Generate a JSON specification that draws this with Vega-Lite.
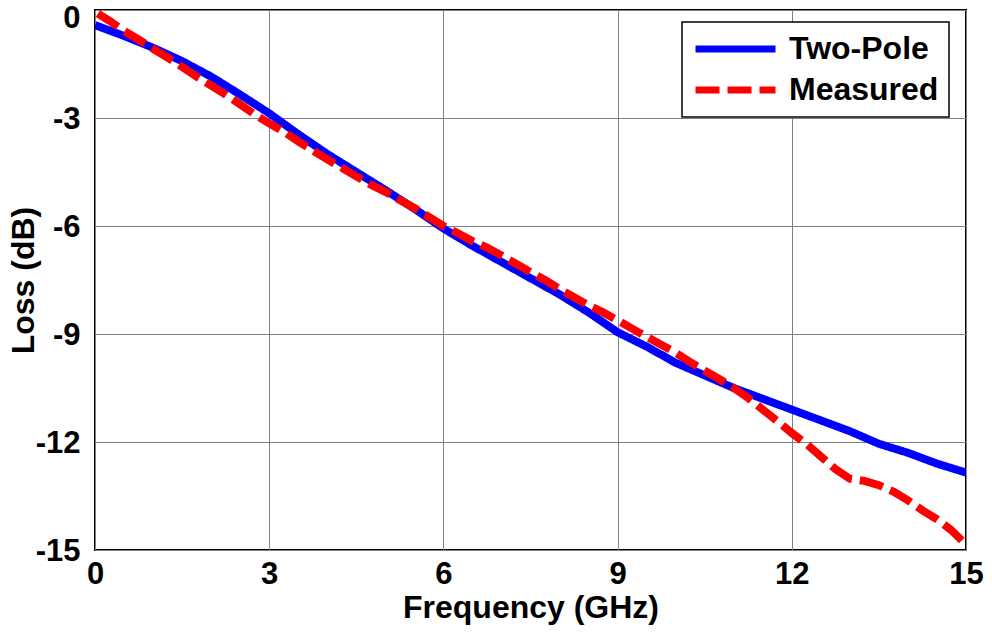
{
  "$schema": "https://vega.github.io/schema/vega-lite/v6.json",
  "autosize": {"type": "none"},
  "padding": {"left": 95, "top": 10, "right": 26, "bottom": 85},
  "width": 871,
  "height": 540,
  "background": "white",
  "config": {
    "font": "Liberation Sans",
    "view": {"stroke": "black", "strokeWidth": 2},
    "axis": {
      "labelFont": "Liberation Sans",
      "labelFontWeight": "bold",
      "labelFontSize": 31,
      "labelColor": "black",
      "titleFont": "Liberation Sans",
      "titleFontWeight": "bold",
      "titleFontSize": 32,
      "titleColor": "black",
      "grid": true,
      "gridColor": "#808080",
      "gridWidth": 1,
      "gridOpacity": 1,
      "domain": false,
      "ticks": false,
      "tickSize": 0,
      "labelFlush": false,
      "labelOverlap": false,
      "labelBound": false,
      "labelExpr": "'' + datum.value"
    },
    "legend": {
      "labelFont": "Liberation Sans",
      "labelFontWeight": "bold",
      "labelFontSize": 32,
      "labelColor": "black",
      "symbolType": "stroke",
      "symbolSize": 6400,
      "symbolStrokeWidth": 7,
      "labelOffset": 10,
      "clipHeight": 34,
      "rowPadding": 7,
      "padding": 10,
      "strokeColor": "black",
      "strokeWidth": 1.5,
      "fillColor": "white",
      "cornerRadius": 0,
      "labelLimit": 400
    }
  },
  "data": {
    "values": [
      {"series": "Two-Pole", "f": 0.0, "loss": -0.42},
      {"series": "Two-Pole", "f": 0.5, "loss": -0.72},
      {"series": "Two-Pole", "f": 1.0, "loss": -1.05},
      {"series": "Two-Pole", "f": 1.5, "loss": -1.42},
      {"series": "Two-Pole", "f": 2.0, "loss": -1.85},
      {"series": "Two-Pole", "f": 2.5, "loss": -2.35},
      {"series": "Two-Pole", "f": 3.0, "loss": -2.87},
      {"series": "Two-Pole", "f": 3.5, "loss": -3.45},
      {"series": "Two-Pole", "f": 4.0, "loss": -4.0},
      {"series": "Two-Pole", "f": 4.5, "loss": -4.5},
      {"series": "Two-Pole", "f": 5.0, "loss": -5.0},
      {"series": "Two-Pole", "f": 5.5, "loss": -5.52},
      {"series": "Two-Pole", "f": 6.0, "loss": -6.07},
      {"series": "Two-Pole", "f": 6.5, "loss": -6.55},
      {"series": "Two-Pole", "f": 7.0, "loss": -7.0},
      {"series": "Two-Pole", "f": 7.5, "loss": -7.45},
      {"series": "Two-Pole", "f": 8.0, "loss": -7.9},
      {"series": "Two-Pole", "f": 8.5, "loss": -8.4},
      {"series": "Two-Pole", "f": 9.0, "loss": -8.95},
      {"series": "Two-Pole", "f": 9.5, "loss": -9.35},
      {"series": "Two-Pole", "f": 10.0, "loss": -9.8},
      {"series": "Two-Pole", "f": 10.5, "loss": -10.15},
      {"series": "Two-Pole", "f": 11.0, "loss": -10.5},
      {"series": "Two-Pole", "f": 11.5, "loss": -10.8},
      {"series": "Two-Pole", "f": 12.0, "loss": -11.1},
      {"series": "Two-Pole", "f": 12.5, "loss": -11.4},
      {"series": "Two-Pole", "f": 13.0, "loss": -11.7},
      {"series": "Two-Pole", "f": 13.5, "loss": -12.05},
      {"series": "Two-Pole", "f": 14.0, "loss": -12.3},
      {"series": "Two-Pole", "f": 14.5, "loss": -12.6},
      {"series": "Two-Pole", "f": 15.0, "loss": -12.85},
      {"series": "Measured", "f": 0.05, "loss": -0.1},
      {"series": "Measured", "f": 0.25, "loss": -0.3},
      {"series": "Measured", "f": 0.5, "loss": -0.58},
      {"series": "Measured", "f": 0.75, "loss": -0.82},
      {"series": "Measured", "f": 1.0, "loss": -1.08},
      {"series": "Measured", "f": 1.25, "loss": -1.32},
      {"series": "Measured", "f": 1.5, "loss": -1.58},
      {"series": "Measured", "f": 1.75, "loss": -1.85},
      {"series": "Measured", "f": 2.0, "loss": -2.1},
      {"series": "Measured", "f": 2.25, "loss": -2.35},
      {"series": "Measured", "f": 2.5, "loss": -2.62},
      {"series": "Measured", "f": 2.75, "loss": -2.9},
      {"series": "Measured", "f": 3.0, "loss": -3.15},
      {"series": "Measured", "f": 3.25, "loss": -3.38},
      {"series": "Measured", "f": 3.5, "loss": -3.65},
      {"series": "Measured", "f": 3.75, "loss": -3.9},
      {"series": "Measured", "f": 4.0, "loss": -4.15},
      {"series": "Measured", "f": 4.25, "loss": -4.38},
      {"series": "Measured", "f": 4.5, "loss": -4.62},
      {"series": "Measured", "f": 4.75, "loss": -4.85},
      {"series": "Measured", "f": 5.0, "loss": -5.05},
      {"series": "Measured", "f": 5.25, "loss": -5.28},
      {"series": "Measured", "f": 5.5, "loss": -5.5},
      {"series": "Measured", "f": 5.75, "loss": -5.75},
      {"series": "Measured", "f": 6.0, "loss": -6.0},
      {"series": "Measured", "f": 6.25, "loss": -6.2},
      {"series": "Measured", "f": 6.5, "loss": -6.42},
      {"series": "Measured", "f": 6.75, "loss": -6.6},
      {"series": "Measured", "f": 7.0, "loss": -6.82},
      {"series": "Measured", "f": 7.25, "loss": -7.05},
      {"series": "Measured", "f": 7.5, "loss": -7.28},
      {"series": "Measured", "f": 7.75, "loss": -7.5},
      {"series": "Measured", "f": 8.0, "loss": -7.75},
      {"series": "Measured", "f": 8.25, "loss": -7.98},
      {"series": "Measured", "f": 8.5, "loss": -8.2},
      {"series": "Measured", "f": 8.75, "loss": -8.4},
      {"series": "Measured", "f": 9.0, "loss": -8.62},
      {"series": "Measured", "f": 9.25, "loss": -8.85},
      {"series": "Measured", "f": 9.5, "loss": -9.08},
      {"series": "Measured", "f": 9.75, "loss": -9.3},
      {"series": "Measured", "f": 10.0, "loss": -9.52},
      {"series": "Measured", "f": 10.25, "loss": -9.78},
      {"series": "Measured", "f": 10.5, "loss": -10.02},
      {"series": "Measured", "f": 10.75, "loss": -10.25},
      {"series": "Measured", "f": 11.0, "loss": -10.5},
      {"series": "Measured", "f": 11.25, "loss": -10.78},
      {"series": "Measured", "f": 11.5, "loss": -11.1},
      {"series": "Measured", "f": 11.75, "loss": -11.42},
      {"series": "Measured", "f": 12.0, "loss": -11.75},
      {"series": "Measured", "f": 12.25, "loss": -12.05},
      {"series": "Measured", "f": 12.5, "loss": -12.4},
      {"series": "Measured", "f": 12.75, "loss": -12.75},
      {"series": "Measured", "f": 13.0, "loss": -13.02},
      {"series": "Measured", "f": 13.25, "loss": -13.08},
      {"series": "Measured", "f": 13.5, "loss": -13.2},
      {"series": "Measured", "f": 13.75, "loss": -13.38},
      {"series": "Measured", "f": 14.0, "loss": -13.62},
      {"series": "Measured", "f": 14.25, "loss": -13.9},
      {"series": "Measured", "f": 14.5, "loss": -14.15},
      {"series": "Measured", "f": 14.75, "loss": -14.45},
      {"series": "Measured", "f": 15.0, "loss": -14.85}
    ]
  },
  "mark": {"type": "line", "strokeWidth": 8, "clip": true},
  "encoding": {
    "x": {
      "field": "f",
      "type": "quantitative",
      "scale": {"domain": [0, 15], "nice": false, "zero": false},
      "axis": {"title": "Frequency (GHz)", "values": [0, 3, 6, 9, 12, 15], "labelPadding": 9, "titleY": 42, "titlePadding": 0}
    },
    "y": {
      "field": "loss",
      "type": "quantitative",
      "scale": {"domain": [-15, 0], "nice": false, "zero": false},
      "axis": {
        "title": "Loss (dB)",
        "values": [0, -3, -6, -9, -12, -15],
        "labelPadding": 15,
        "titleX": -55,
        "labelOffset": {"condition": {"test": "datum.value == 0", "value": 8}, "value": 1}
      }
    },
    "color": {
      "field": "series",
      "type": "nominal",
      "sort": ["Two-Pole", "Measured"],
      "scale": {"domain": ["Two-Pole", "Measured"], "range": ["#0000ff", "#ff0000"]},
      "legend": {"title": null, "orient": "none", "legendX": 587, "legendY": 12}
    },
    "strokeDash": {
      "field": "series",
      "type": "nominal",
      "sort": ["Two-Pole", "Measured"],
      "scale": {"domain": ["Two-Pole", "Measured"], "range": [[1, 0], [24, 8]]},
      "legend": {"title": null, "orient": "none", "legendX": 587, "legendY": 12}
    }
  }
}
